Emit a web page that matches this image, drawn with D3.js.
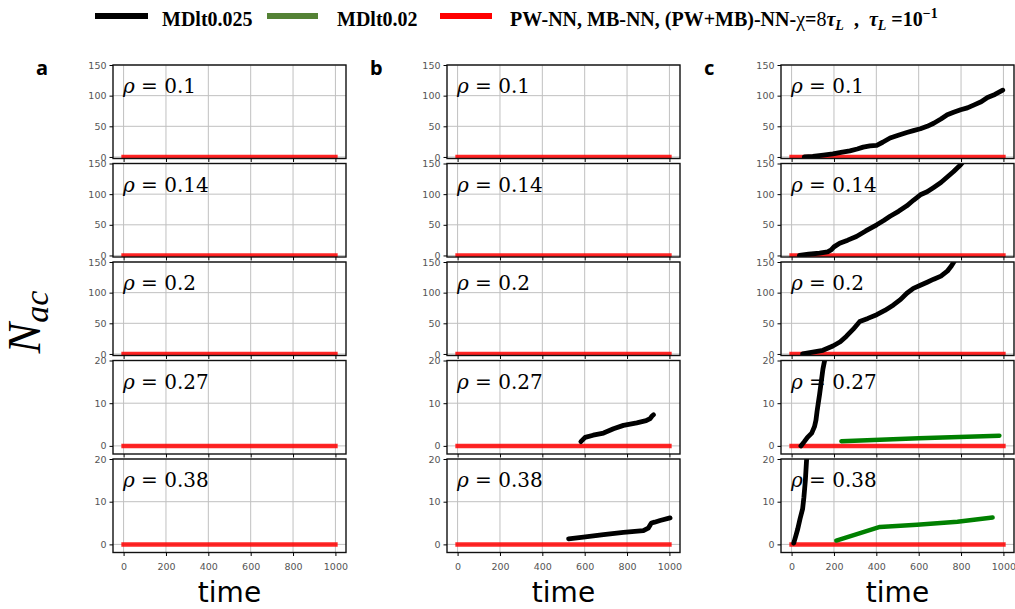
<!DOCTYPE html>
<meta charset="utf-8">
<style>
    body { margin: 0; background: #fff; }
    text { font-family: "DejaVu Sans", sans-serif; }
    .tick text { font-size: 9.5px; fill: #555; }
    .rho { font-family: "DejaVu Serif", serif; font-size: 20px; }
    .legend text { font-family: "Liberation Serif", serif; font-size: 20px; font-weight: bold; }
</style>
<body>
<script src="https://d3js.org/d3.v7.min.js"></script>
<script>

    // ---- data ----
    var panelNames = ["a", "b", "c"];
    var rhoLabels = ["0.1", "0.14", "0.2", "0.27", "0.38"];
    var rowMax = [150, 150, 150, 20, 20];
    var rowTicks = [[0, 50, 100, 150], [0, 50, 100, 150], [0, 50, 100, 150], [0, 10, 20], [0, 10, 20]];
    var timeTicks = [0, 200, 400, 600, 800, 1000];

    // red: PW-NN / MB-NN / (PW+MB)-NN, zero everywhere
    var redTime = [0, 1000];
    var redNac = [0, 0];

    // black: MDlt0.025
    var b27Time = [582, 602, 640, 689, 736, 783, 846, 890, 909, 918, 925];
    var b27Nac  = [1, 2, 2.5, 3, 4, 4.8, 5.4, 5.9, 6.4, 7, 7.3];
    var b38Time = [524, 594, 689, 783, 877, 900, 915, 930, 956, 1003];
    var b38Nac  = [1.3, 1.7, 2.3, 2.8, 3.2, 3.8, 5, 5.2, 5.6, 6.2];

    var c10Time = [60, 100, 150, 195, 240, 275, 310, 338, 370, 402, 430, 465, 500, 544, 575, 608, 640, 671, 705, 735, 765, 798, 830, 862, 895, 925, 960, 997];
    var c10Nac  = [0, 1, 3, 5, 8, 10, 13, 16, 18, 19, 24, 31, 35, 40, 43, 46, 50, 55, 62, 69, 73, 77, 80, 85, 90, 97, 102, 109];
    var c14Time = [37, 80, 132, 170, 187, 200, 227, 265, 306, 350, 402, 435, 465, 505, 544, 575, 608, 640, 671, 705, 735, 765, 798, 815];
    var c14Nac  = [0, 2, 4, 6, 9, 14, 20, 25, 31, 40, 50, 57, 64, 72, 81, 90, 99, 104, 111, 119, 128, 137, 148, 155];
    var c20Time = [52, 100, 148, 195, 230, 259, 290, 322, 360, 402, 440, 481, 515, 544, 575, 608, 640, 671, 705, 735, 755, 775];
    var c20Nac  = [0, 3, 6, 13, 20, 29, 40, 53, 58, 64, 71, 80, 89, 99, 107, 112, 117, 122, 127, 135, 144, 155];
    var c27Time = [44, 60, 75, 95, 108, 115, 120, 126, 132, 140, 148, 156, 162];
    var c27Nac  = [0, 1, 2, 3, 4.5, 6, 8, 10, 12, 15, 18, 20, 22];
    var c38Time = [10, 20, 29, 40, 52, 58, 65, 71, 76];
    var c38Nac  = [0.3, 2, 3.6, 6, 8.3, 11, 15, 20, 23];

    // green: MDlt0.02
    var g27Time = [235, 600, 981];
    var g27Nac  = [1.1, 1.8, 2.4];
    var g38Time = [211, 417, 592, 783, 949];
    var g38Nac  = [0.9, 4.1, 4.6, 5.3, 6.3];

    var legendLabels = ["MDlt0.025", "MDlt0.02"];
    var colors = {black: "#000", green: "#008000", legendGreen: "#548235", red: "#ff0000"};

    function zip(t, n) { return t.map(function(d, i) { return {t: d, n: n[i]}; }); }

    // series per [panel][row]
    var blackSeries = {
        "b3": zip(b27Time, b27Nac), "b4": zip(b38Time, b38Nac),
        "c0": zip(c10Time, c10Nac), "c1": zip(c14Time, c14Nac), "c2": zip(c20Time, c20Nac),
        "c3": zip(c27Time, c27Nac), "c4": zip(c38Time, c38Nac)
    };
    var greenSeries = { "c3": zip(g27Time, g27Nac), "c4": zip(g38Time, g38Nac) };
    var redSeries = zip(redTime, redNac);

    // ---- layout ----
    var W = 1015, H = 609;
    var panelLeft = [113, 447, 781], panelWidth = 233;
    var rowTop0 = 65, rowStep = 98.5, rowHeight = 93.5;

    var svg = d3.select("body").append("svg")
        .attr("width", W)
        .attr("height", H);

    var defs = svg.append("defs");

    panelNames.forEach(function(p, pi) {
        var x = d3.scaleLinear().domain([-50, 1050]).range([panelLeft[pi], panelLeft[pi] + panelWidth]);

        svg.append("text")
            .attr("x", panelLeft[pi] - 77)
            .attr("y", 75)
            .style("font-family", "'Noto Sans', sans-serif")
            .style("font-weight", "bold")
            .style("font-size", "20px")
            .text(p);

        rhoLabels.forEach(function(rho, ri) {
            var top = rowTop0 + ri * rowStep;
            var yMin = rowMax[ri] === 150 ? -2.5 : -1.9;
            var y = d3.scaleLinear().domain([yMin, rowMax[ri]]).range([top + rowHeight, top]);
            var g = svg.append("g");
            var clipId = "clip-" + p + ri;

            defs.append("clipPath").attr("id", clipId)
                .append("rect")
                .attr("x", x.range()[0]).attr("y", top)
                .attr("width", panelWidth).attr("height", rowHeight);

            // grid
            g.selectAll(".gx").data(timeTicks).enter().append("line")
                .attr("x1", function(d) { return x(d); }).attr("x2", function(d) { return x(d); })
                .attr("y1", top).attr("y2", top + rowHeight)
                .attr("stroke", "#c0c0c0").attr("stroke-width", 1);
            g.selectAll(".gy").data(rowTicks[ri]).enter().append("line")
                .attr("x1", x.range()[0]).attr("x2", x.range()[1])
                .attr("y1", function(d) { return y(d); }).attr("y2", function(d) { return y(d); })
                .attr("stroke", "#c0c0c0").attr("stroke-width", 1);

            // rho label
            var lab = g.append("text").attr("class", "rho")
                .attr("x", x.range()[0] + 10)
                .attr("y", top + 28)
                .style("white-space", "pre");
            lab.append("tspan").style("font-style", "italic").text("ρ");
            lab.append("tspan").text(" = " + rho);

            var line = d3.line().x(function(d) { return x(d.t); }).y(function(d) { return y(d.n); });
            var lines = g.append("g").attr("clip-path", "url(#" + clipId + ")");

            lines.append("path").datum(redSeries)
                .attr("d", line).attr("fill", "none")
                .attr("stroke", colors.red).attr("stroke-opacity", 0.85)
                .attr("stroke-width", 4.5).attr("stroke-linecap", "square");

            var key = p + ri;
            if (greenSeries[key]) {
                lines.append("path").datum(greenSeries[key])
                    .attr("d", line).attr("fill", "none")
                    .attr("stroke", colors.green).attr("stroke-width", 4.5)
                    .attr("stroke-linecap", "round").attr("stroke-linejoin", "round");
            }
            if (blackSeries[key]) {
                lines.append("path").datum(blackSeries[key])
                    .attr("d", line).attr("fill", "none")
                    .attr("stroke", colors.black).attr("stroke-width", 4.8)
                    .attr("stroke-linecap", "round").attr("stroke-linejoin", "round");
            }

            // frame
            g.append("rect")
                .attr("x", x.range()[0]).attr("y", top)
                .attr("width", panelWidth).attr("height", rowHeight)
                .attr("fill", "none").attr("stroke", "#111").attr("stroke-width", 1.4);

            // axes
            var ya = g.append("g").attr("transform", "translate(" + x.range()[0] + ",0)")
                .call(d3.axisLeft(y).tickValues(rowTicks[ri]).tickSize(3.5).tickSizeOuter(0).tickPadding(3));
            ya.select(".domain").remove();

            var xa = g.append("g").attr("transform", "translate(0," + (top + rowHeight) + ")")
                .call(d3.axisBottom(x).tickValues(timeTicks).tickFormat(d3.format("d"))
                    .tickSize(3.5).tickSizeOuter(0).tickPadding(7));
            xa.select(".domain").remove();
            if (ri < rhoLabels.length - 1) xa.selectAll("text").remove();
        });

        svg.append("text")
            .attr("x", panelLeft[pi] + panelWidth / 2)
            .attr("y", 602)
            .attr("text-anchor", "middle")
            .style("font-size", "28px")
            .text("time");
    });

    // y label N_ac
    var nl = svg.append("text")
        .attr("transform", "translate(40,322) rotate(-90)")
        .attr("text-anchor", "middle")
        .style("font-family", "'Liberation Serif', serif")
        .style("font-style", "italic")
        .style("font-size", "46px");
    nl.append("tspan").text("N");
    nl.append("tspan").attr("dy", 8).style("font-size", "34px").text("ac");

    // legend
    var leg = svg.append("g").attr("class", "legend");
    var legItems = [
        {x1: 95, x2: 148, color: colors.black, tx: 162},
        {x1: 267, x2: 318, color: colors.legendGreen, tx: 337},
        {x1: 440, x2: 492, color: colors.red, tx: 510}
    ];
    leg.selectAll("line").data(legItems).enter().append("line")
        .attr("x1", function(d) { return d.x1; }).attr("x2", function(d) { return d.x2; })
        .attr("y1", 16).attr("y2", 16)
        .attr("stroke", function(d) { return d.color; }).attr("stroke-width", 6);
    legendLabels.forEach(function(l, i) {
        leg.append("text").attr("x", legItems[i].tx).attr("y", 26).text(l);
    });
    var lt = leg.append("text").attr("x", legItems[2].tx).attr("y", 26).style("white-space", "pre");
    lt.append("tspan").text("PW-NN, MB-NN, (PW+MB)-NN-");
    lt.append("tspan").style("font-weight", "normal").text("χ");
    lt.append("tspan").text("=");
    lt.append("tspan").style("font-weight", "normal").text("8");
    lt.append("tspan").style("font-style", "italic").text("τ");
    lt.append("tspan").style("font-style", "italic").style("font-size", "14px").attr("dy", 4).text("L");
    lt.append("tspan").attr("dy", -4).text("  ,  ");
    lt.append("tspan").style("font-style", "italic").text("τ");
    lt.append("tspan").style("font-style", "italic").style("font-size", "14px").attr("dy", 4).text("L");
    lt.append("tspan").attr("dy", -4).text(" =10");
    lt.append("tspan").style("font-size", "14px").attr("dy", -8).text("−1");

</script>
